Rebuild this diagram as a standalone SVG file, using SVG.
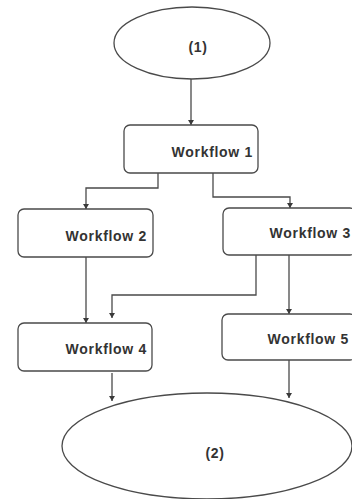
<svg xmlns="http://www.w3.org/2000/svg" width="352" height="499" viewBox="0 0 352 499">
<style>
.shape{fill:#fff;stroke:#4a4a4a;stroke-width:1.3}
.lbl{font-family:"Liberation Sans",Arial,sans-serif;font-weight:bold;font-size:14px;fill:#333;letter-spacing:0.7px}
.conn{fill:none;stroke:#4a4a4a;stroke-width:1.3}
</style>
<defs>
<marker id="arr" markerWidth="6" markerHeight="6" refX="5" refY="3" orient="auto" markerUnits="userSpaceOnUse">
<path d="M0,0 L5,3 L0,6 Z" fill="#3a3a3a"/>
</marker>
</defs>
<rect width="352" height="499" fill="#fff"/>
<g id="connectors">
<path class="conn" d="M191,79 V125" marker-end="url(#arr)"/>
<path class="conn" d="M158,173 V188 H86 V209" marker-end="url(#arr)"/>
<path class="conn" d="M213,173 V197 H290 V208" marker-end="url(#arr)"/>
<path class="conn" d="M86,257 V323" marker-end="url(#arr)"/>
<path class="conn" d="M256,255 V295 H112 V318" marker-end="url(#arr)"/>
<path class="conn" d="M289,255 V314" marker-end="url(#arr)"/>
<path class="conn" d="M112,373 V401" marker-end="url(#arr)"/>
<path class="conn" d="M289,360 V398" marker-end="url(#arr)"/>
</g>
<g id="start">
<ellipse class="shape" cx="192" cy="43" rx="78" ry="36"/>
<text class="lbl" x="198" y="52" text-anchor="middle">(1)</text>
</g>
<g id="wf1">
<rect class="shape" x="124" y="125" width="134" height="48" rx="6"/>
<text class="lbl" x="253" y="157" text-anchor="end">Workflow 1</text>
</g>
<g id="wf2">
<rect class="shape" x="18" y="209" width="135" height="48" rx="6"/>
<text class="lbl" x="147" y="241" text-anchor="end">Workflow 2</text>
</g>
<g id="wf3">
<rect class="shape" x="223" y="208" width="133" height="47" rx="6"/>
<text class="lbl" x="351" y="238" text-anchor="end">Workflow 3</text>
</g>
<g id="wf4">
<rect class="shape" x="18" y="323" width="134" height="48" rx="6"/>
<text class="lbl" x="147" y="354" text-anchor="end">Workflow 4</text>
</g>
<g id="wf5">
<rect class="shape" x="222" y="314" width="134" height="46" rx="6"/>
<text class="lbl" x="349" y="344" text-anchor="end">Workflow 5</text>
</g>
<g id="end">
<ellipse class="shape" cx="207" cy="446" rx="145" ry="53"/>
<text class="lbl" x="215" y="458" text-anchor="middle">(2)</text>
</g>
</svg>
